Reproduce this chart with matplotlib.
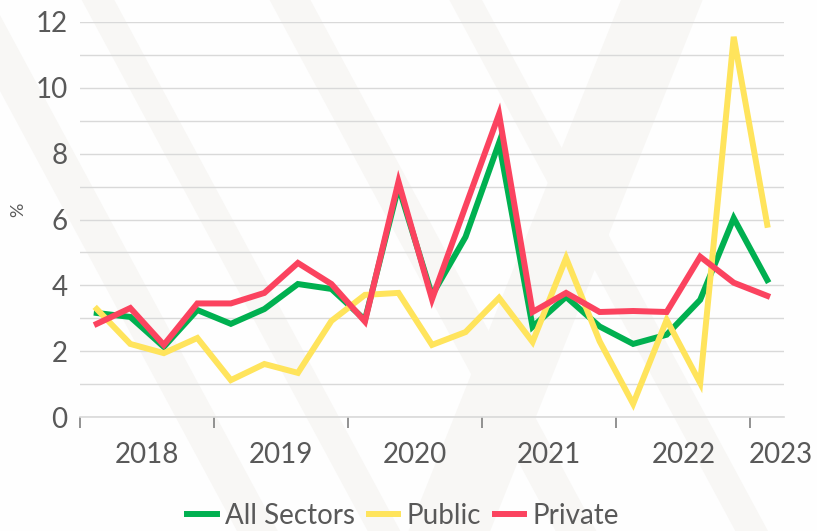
"""
quarterly growth rates by sector, 2018-2023
"""
import numpy as np
import matplotlib.pyplot as plt
from matplotlib.patches import Polygon

quarters = ["2018Q1", "2018Q2", "2018Q3", "2018Q4",
            "2019Q1", "2019Q2", "2019Q3", "2019Q4",
            "2020Q1", "2020Q2", "2020Q3", "2020Q4",
            "2021Q1", "2021Q2", "2021Q3", "2021Q4",
            "2022Q1", "2022Q2", "2022Q3", "2022Q4",
            "2023Q1"]
all_sectors = [3.16, 3.04, 2.13, 3.25, 2.83, 3.28, 4.04, 3.89, 2.95, 7.0, 3.7,
               5.47, 8.33, 2.74, 3.65, 2.75, 2.22, 2.5, 3.56, 6.04, 4.16]
public = [3.28, 2.22, 1.94, 2.40, 1.12, 1.61, 1.34, 2.92, 3.71, 3.77, 2.19,
          2.58, 3.62, 2.28, 4.83, 2.3, 0.4, 2.95, 1.03, 11.55, 5.84]
private = [2.83, 3.31, 2.19, 3.45, 3.45, 3.77, 4.68, 4.04, 2.9, 7.15, 3.58,
           6.4, 9.2, 3.19, 3.77, 3.19, 3.22, 3.19, 4.87, 4.08, 3.68]
year_labels = ["2018", "2019", "2020", "2021", "2022", "2023"]

txt = "#595959"
plt.rcParams["font.family"] = ["Lato", "DejaVu Sans"]

fig = plt.figure(figsize=(8.17, 5.31), dpi=100)
fig.patch.set_facecolor("#fefefe")

# faint diagonal watermark stripes in the background
for x0, w in [(-0.06, 0.05), (0.10, 0.04), (0.33, 0.05), (0.55, 0.04)]:
    fig.patches.append(Polygon([(x0, 1.0), (x0 + w, 1.0), (x0 + w + 0.35, 0.0), (x0 + 0.35, 0.0)],
                               closed=True, transform=fig.transFigure,
                               facecolor="#f8f7f5", edgecolor="none", zorder=-10))
fig.patches.append(Polygon([(0.50, 0.0), (0.60, 0.0), (0.86, 1.0), (0.76, 1.0)],
                           closed=True, transform=fig.transFigure,
                           facecolor="#f8f7f5", edgecolor="none", zorder=-10))

ax = fig.add_axes([80 / 817, 114 / 531, 704 / 817, 395 / 531])
ax.patch.set_alpha(0)

x = np.arange(len(quarters))
ax.plot(x, all_sectors, color="#00b050", lw=4.3, label="All Sectors", solid_joinstyle="miter")
ax.plot(x, public, color="#ffe45c", lw=4.3, label="Public", solid_joinstyle="miter")
ax.plot(x, private, color="#fb435f", lw=4.3, label="Private", solid_joinstyle="miter")

ax.set_xlim(-0.5, len(quarters) - 0.5)
ax.set_ylim(0, 12)
ax.set_yticks(np.arange(0, 13, 2))
ax.set_yticks(np.arange(0, 13, 1), minor=True)
ax.grid(True, which="both", axis="y", color="#d9d9d9", lw=1.0)
ax.set_axisbelow(True)
ax.tick_params(axis="y", which="both", length=0, labelsize=20, labelcolor=txt, pad=9)

ax.set_xticks(np.arange(-0.5, len(quarters), 4))
ax.set_xticklabels([])
ax.tick_params(axis="x", length=8, width=1.2, color="#7f7f7f", direction="out")
centers = [1.5, 5.5, 9.5, 13.5, 17.5, 20.4]
for c, lab in zip(centers, year_labels):
    ax.text(c, -0.75, lab, ha="center", va="top", fontsize=20, color=txt)

for s in ["left", "right", "top"]:
    ax.spines[s].set_visible(False)
ax.spines["bottom"].set_color("#d9d9d9")
ax.spines["bottom"].set_linewidth(1.2)

fig.text(18 / 817, 1 - 210 / 531, "%", rotation=90, ha="center", va="center",
         fontsize=13, color=txt)

fig.legend(loc="center", bbox_to_anchor=(403 / 817, 15 / 531), ncol=3, frameon=False,
           fontsize=20, labelcolor=txt, handlelength=1.05, handletextpad=0.3,
           columnspacing=0.5)

fig.savefig("out.png", dpi=100, facecolor=fig.get_facecolor())
